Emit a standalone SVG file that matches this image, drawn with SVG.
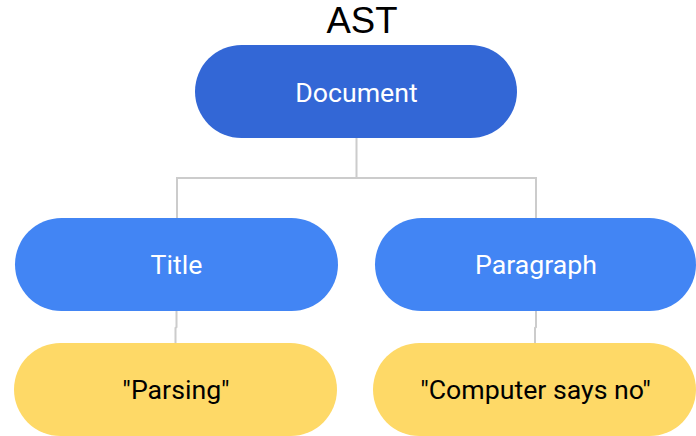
<svg xmlns="http://www.w3.org/2000/svg" width="696" height="436" viewBox="0 0 696 436">
<style>
.lbl{font-family:Roboto,"Liberation Sans",sans-serif;font-size:26.7px;text-anchor:middle}
.w{fill:#ffffff}
.k{fill:#000000}
.conn{fill:none;stroke:#cccccc;stroke-width:2}
</style>
<rect width="696" height="436" fill="#ffffff"/>
<text x="362" y="33" style="font-family:'Liberation Sans',Arial,sans-serif;font-size:36.5px;text-anchor:middle" fill="#000">AST</text>
<g id="connectors">
<path class="conn" d="M356.5 138V178M177 218V178H536V218"/>
<path class="conn" d="M176.5 311V327L175.5 328V343"/>
<path class="conn" d="M536 311V327L535 328V343"/>
</g>
<g id="document">
<rect x="195" y="45" width="322" height="93" rx="46.5" fill="#3367d6"/>
<text class="lbl w" x="356.5" y="102">Document</text>
</g>
<g id="title">
<rect x="15" y="218" width="323" height="93" rx="46.5" fill="#4285f4"/>
<text class="lbl w" x="176.5" y="274">Title</text>
</g>
<g id="paragraph">
<rect x="375" y="218" width="321" height="93" rx="46.5" fill="#4285f4"/>
<text class="lbl w" x="536" y="274">Paragraph</text>
</g>
<g id="parsing">
<rect x="14" y="343" width="323" height="93" rx="46.5" fill="#fed967"/>
<text class="lbl k" x="176" y="399">"Parsing"</text>
</g>
<g id="computer">
<rect x="373" y="343" width="323" height="93" rx="46.5" fill="#fed967"/>
<text class="lbl k" x="535.5" y="399">"Computer says no"</text>
</g>
</svg>
